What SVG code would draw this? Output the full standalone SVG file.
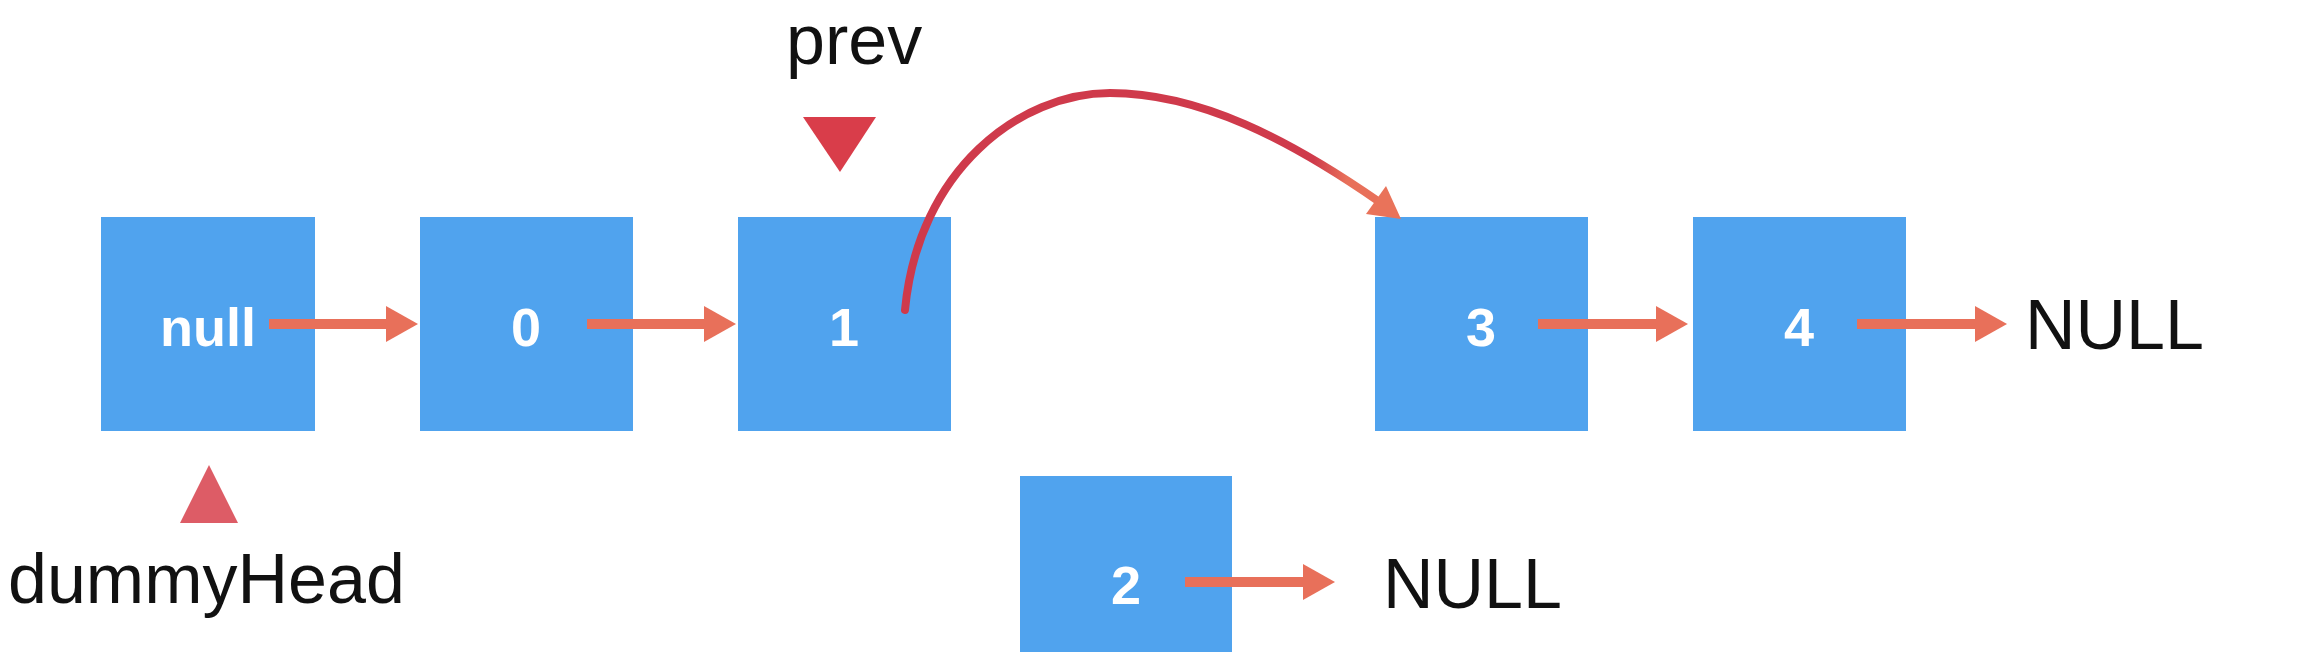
<svg xmlns="http://www.w3.org/2000/svg" width="2318" height="652" viewBox="0 0 2318 652">
  <style>
    .node rect { fill: #50A3EE; }
    .node text { fill: #FFFFFF; font-family: "Liberation Sans", Arial, sans-serif; font-weight: bold; font-size: 54px; text-anchor: middle; }
    .label { fill: #111111; font-family: "Liberation Sans", Arial, sans-serif; font-size: 70px; }
    .link { stroke: #E8705A; stroke-width: 10; fill: none; marker-end: url(#head); }
  </style>
  <defs>
    <marker id="head" viewBox="0 0 32 36" refX="1" refY="18" markerWidth="32" markerHeight="36" markerUnits="userSpaceOnUse" orient="auto">
      <path d="M0,0 L32,18 L0,36 Z" fill="#E8705A"/>
    </marker>
    <linearGradient id="curveGrad" gradientUnits="userSpaceOnUse" x1="905" y1="0" x2="1380" y2="0">
      <stop offset="0" stop-color="#CF3A4B"/>
      <stop offset="0.86" stop-color="#CF3A4B"/>
      <stop offset="0.93" stop-color="#E8705A"/>
      <stop offset="1" stop-color="#E8705A"/>
    </linearGradient>
  </defs>
  <rect width="2318" height="652" fill="#FFFFFF"/>

  <g id="node-null" class="node"><rect x="101" y="217" width="214" height="214"/><text x="208" y="346">null</text></g>
  <g id="node-0" class="node"><rect x="420" y="217" width="213" height="214"/><text x="526" y="346">0</text></g>
  <g id="node-1" class="node"><rect x="738" y="217" width="213" height="214"/><text x="844" y="346">1</text></g>
  <g id="node-3" class="node"><rect x="1375" y="217" width="213" height="214"/><text x="1481" y="346">3</text></g>
  <g id="node-4" class="node"><rect x="1693" y="217" width="213" height="214"/><text x="1799" y="346">4</text></g>
  <g id="node-2" class="node"><rect x="1020" y="476" width="212" height="190"/><text x="1126" y="604">2</text></g>

  <g id="connectors">
    <line class="link" x1="269" y1="324" x2="387" y2="324"/>
    <line class="link" x1="587" y1="324" x2="705" y2="324"/>
    <line class="link" x1="1538" y1="324" x2="1657" y2="324"/>
    <line class="link" x1="1857" y1="324" x2="1976" y2="324"/>
    <line class="link" x1="1185" y1="582" x2="1304" y2="582"/>
    <path d="M905,310 C918,170 1020,93 1110,93 C1200,93 1290,140 1378,201" fill="none" stroke="url(#curveGrad)" stroke-width="8" stroke-linecap="round"/>
    <polygon points="1401,219 1366,214 1386,186" fill="#E9735A"/>
  </g>

  <g id="pointer-prev">
    <text class="label" x="786" y="64">prev</text>
    <path d="M803,117 L876,117 L840,172 Z" fill="#D93D4A"/>
  </g>
  <g id="pointer-dummyHead">
    <path d="M209,465 L238,523 L180,523 Z" fill="#DD5C66"/>
    <text class="label" x="8" y="603">dummyHead</text>
  </g>
  <g id="null-right"><text class="label" x="2025" y="349">NULL</text></g>
  <g id="null-bottom"><text class="label" x="1383" y="608">NULL</text></g>
</svg>
